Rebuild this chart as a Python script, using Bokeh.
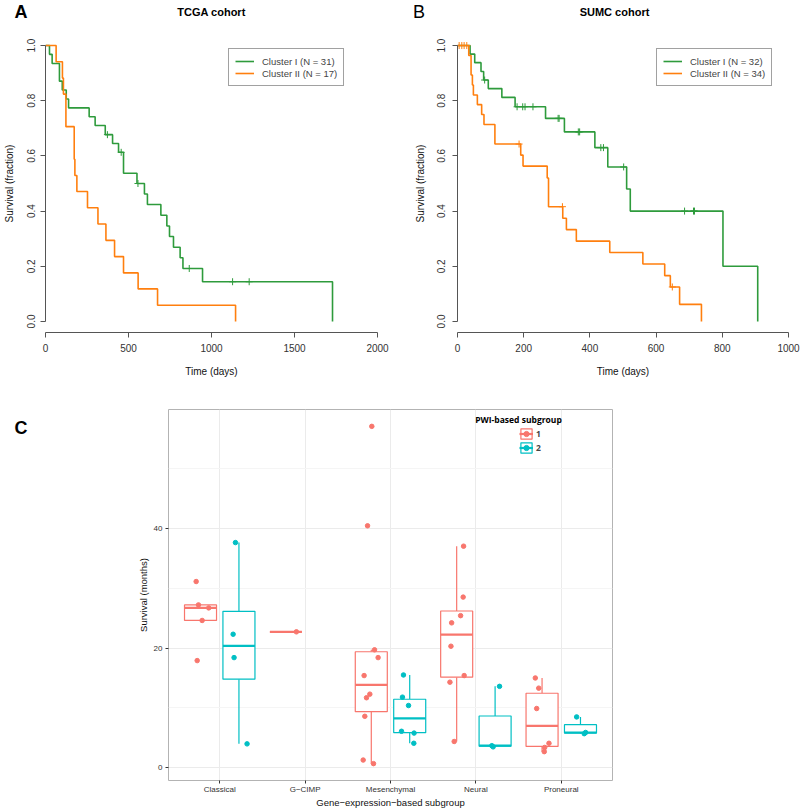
import numpy as np
from bokeh.plotting import figure
from bokeh.models import (Label, Legend, LegendItem, FixedTicker, NumeralTickFormatter,
                          CustomJSTickFormatter, ColumnDataSource, Range1d)
from bokeh.layouts import column, row
from bokeh.embed import file_html
from bokeh.resources import INLINE

# ---------------- Panel A: TCGA cohort (Kaplan-Meier steps) ----------------
tcga_c1_time = [0, 24, 40, 84, 101, 125, 139, 263, 299, 360, 404, 440, 470, 551, 596, 614,
                695, 731, 747, 771, 811, 828, 946, 1729]
tcga_c1_surv = [1.0, 0.968, 0.935, 0.871, 0.839, 0.806, 0.774, 0.742, 0.710, 0.677, 0.645, 0.613,
                0.537, 0.500, 0.462, 0.424, 0.385, 0.346, 0.308, 0.269, 0.231, 0.192, 0.144, 0.0]
tcga_c1_censor = [373, 456, 557, 866, 1127, 1227]
tcga_c2_time = [0, 64, 102, 108, 123, 173, 177, 189, 253, 316, 364, 416, 470, 558, 675, 1145]
tcga_c2_surv = [1.0, 0.941, 0.882, 0.824, 0.706, 0.588, 0.529, 0.471, 0.412, 0.353, 0.294,
                0.235, 0.176, 0.118, 0.059, 0.0]
tcga_c2_censor = []

# ---------------- Panel B: SUMC cohort ----------------
sumc_c1_time = [0, 38, 52, 71, 79, 93, 134, 174, 266, 323, 415, 454, 511, 522, 802, 907]
sumc_c1_surv = [1.0, 0.969, 0.938, 0.906, 0.875, 0.844, 0.812, 0.778, 0.736, 0.687, 0.630,
                0.560, 0.480, 0.400, 0.200, 0.0]
sumc_c1_censor = [82, 180, 197, 204, 228, 304, 307, 365, 369, 433, 441, 502, 686, 713, 716]
sumc_c2_time = [0, 34, 41, 45, 48, 60, 73, 80, 113, 191, 198, 271, 275, 318, 329, 359, 460,
                560, 626, 643, 671, 737]
sumc_c2_surv = [1.0, 0.964, 0.893, 0.857, 0.821, 0.786, 0.750, 0.714, 0.643, 0.603, 0.563,
                0.520, 0.416, 0.374, 0.333, 0.291, 0.250, 0.208, 0.166, 0.125, 0.062, 0.0]
sumc_c2_censor = [5, 13, 20, 28, 186, 317, 649]

surv_ticks = [0.0, 0.2, 0.4, 0.6, 0.8, 1.0]
tcga_xticks = [0, 500, 1000, 1500, 2000]
sumc_xticks = [0, 200, 400, 600, 800, 1000]
tcga_labels = ["Cluster I (N = 31)", "Cluster II (N = 17)"]
sumc_labels = ["Cluster I (N = 32)", "Cluster II (N = 34)"]

# ---------------- Panel C: survival (months) by subgroup ----------------
subgroups = ["Classical", "G\u2212CIMP", "Mesenchymal", "Neural", "Proneural"]
pwi_levels = ["1", "2"]
classical_1 = [31.1, 27.2, 26.7, 24.6, 17.9]
classical_2 = [37.6, 22.3, 18.4, 4.0]
gcimp_1 = [22.7]
gcimp_2 = []
mesenchymal_1 = [57.0, 40.4, 19.7, 18.4, 15.4, 12.3, 11.7, 8.6, 1.3, 0.7]
mesenchymal_2 = [15.5, 11.8, 10.4, 6.1, 5.8, 4.1]
neural_1 = [37.0, 28.5, 25.4, 24.2, 20.3, 15.4, 14.3, 4.4]
neural_2 = [13.6, 3.7, 3.5]
proneural_1 = [15.0, 13.3, 9.9, 4.1, 3.4, 2.7]
proneural_2 = [8.5, 5.9, 5.7]
# horizontal jitter of each point (category units)
classical_1_jit = [-0.276, -0.249, -0.129, -0.206, -0.264]
classical_2_jit = [0.184, 0.157, 0.168, 0.320]
gcimp_1_jit = [-0.102]
gcimp_2_jit = []
mesenchymal_1_jit = [-0.219, -0.269, -0.187, -0.145, -0.309, -0.242, -0.281, -0.301, -0.320, -0.199]
mesenchymal_2_jit = [0.152, 0.140, 0.211, 0.129, 0.276, 0.273]
neural_1_jit = [-0.144, -0.149, -0.179, -0.284, -0.292, -0.137, -0.304, -0.254]
neural_2_jit = [0.277, 0.187, 0.202]
proneural_1_jit = [-0.304, -0.264, -0.288, -0.144, -0.194, -0.199]
proneural_2_jit = [0.180, 0.285, 0.269]
c_yticks = [0, 20, 40]
c_yminor = [10, 30, 50]

# ---------------- styles ----------------
FONT = "Liberation Sans"
GREEN = "#2E9B3C"
ORANGE = "#FF7F0E"
RED = "#F8766D"
TEAL = "#00BFC4"


def text_strip(width, height):
    """Blank figure whose data units are canvas pixels (y downwards), used for free texts."""
    p = figure(width=width, height=height, x_range=Range1d(0, width), y_range=Range1d(height, 0),
               x_axis_type=None, y_axis_type=None, min_border=0, output_backend="svg",
               toolbar_location=None, title=None)
    p.outline_line_color = None
    return p


def add_text(p, x, y, text, size, bold=False, align="center", units="data", font=FONT):
    p.add_layout(Label(x=x, y=y, x_units=units, y_units=units, text=text,
                       text_font=font, text_font_size=f"{size}px",
                       text_font_style="bold" if bold else "normal",
                       text_align=align, text_baseline="middle", text_color="#000000"))


def surv_at(times, survs, t):
    idx = np.searchsorted(np.asarray(times), t, side="right") - 1
    return [survs[i] for i in np.atleast_1d(idx)]


def km_panel(width, left, right, xmax, xticks, curves, labels, legend_loc,
             ylab_standoff, ytick_standoff):
    p = figure(width=width, height=356, x_range=Range1d(0, xmax), y_range=Range1d(-0.04, 1.04),
               output_backend="svg", toolbar_location=None, title=None,
               min_border_left=left, min_border_right=right, min_border_top=8, min_border_bottom=50)
    p.grid.visible = False
    p.outline_line_color = None
    p.xaxis.ticker = FixedTicker(ticks=xticks)
    p.yaxis.ticker = FixedTicker(ticks=surv_ticks)
    p.yaxis.formatter = NumeralTickFormatter(format="0.0")
    p.xaxis.bounds = (xticks[0], xticks[-1])
    p.yaxis.bounds = (surv_ticks[0], surv_ticks[-1])
    p.yaxis.major_label_orientation = "vertical"
    p.xaxis.axis_label = "Time (days)"
    p.yaxis.axis_label = "Survival (fraction)"
    for ax in (p.xaxis, p.yaxis):
        ax.axis_line_color = "#555555"
        ax.major_tick_line_color = "#555555"
        ax.major_tick_out = 5
        ax.major_tick_in = 0
        ax.minor_tick_line_color = None
        ax.major_label_text_font = FONT
        ax.major_label_text_font_size = "10px"
        ax.major_label_text_color = "#333333"
        ax.axis_label_text_font = FONT
        ax.axis_label_text_font_size = "10px"
        ax.axis_label_text_font_style = "normal"
        ax.axis_label_text_color = "#111111"
    p.xaxis.major_label_standoff = 6
    p.xaxis.axis_label_standoff = 11
    p.yaxis.major_label_standoff = ytick_standoff
    p.yaxis.axis_label_standoff = ylab_standoff
    items = []
    for (t, s, cens, col), lab in zip(curves, labels):
        r = p.step(x=t, y=s, mode="after", line_color=col, line_width=1.6)
        if len(cens):
            p.scatter(x=cens, y=surv_at(t, s, cens), marker="cross", size=7,
                      line_color=col, line_width=1)
        items.append(LegendItem(label=lab, renderers=[r]))
    leg = Legend(items=items, location=legend_loc, padding=6, spacing=0, margin=0,
                 glyph_width=19, glyph_height=12, label_height=12, label_standoff=8,
                 label_text_font=FONT, label_text_font_size="9.5px",
                 border_line_color="#444444", border_line_width=1,
                 background_fill_color="white", background_fill_alpha=1.0)
    p.add_layout(leg)
    return p


# ---------------- header strip (panel letters and titles) ----------------
header = text_strip(800, 26)
add_text(header, 20.5, 11, "A", 18, bold=True)
add_text(header, 211, 11, "TCGA cohort", 11, bold=True)
add_text(header, 418.5, 11, "B", 18)
add_text(header, 614, 11, "SUMC cohort", 11, bold=True)

pA = km_panel(400, 45, 23, 2000, tcga_xticks,
              [(tcga_c1_time, tcga_c1_surv, tcga_c1_censor, GREEN),
               (tcga_c2_time, tcga_c2_surv, tcga_c2_censor, ORANGE)],
              tcga_labels, (183, 246), ylab_standoff=10, ytick_standoff=5)

pB = km_panel(400, 57, 12, 1000, sumc_xticks,
              [(sumc_c1_time, sumc_c1_surv, sumc_c1_censor, GREEN),
               (sumc_c2_time, sumc_c2_surv, sumc_c2_censor, ORANGE)],
              sumc_labels, (199, 246), ylab_standoff=9, ytick_standoff=7)

# ---------------- Panel C ----------------
group1 = [classical_1, gcimp_1, mesenchymal_1, neural_1, proneural_1]
group2 = [classical_2, gcimp_2, mesenchymal_2, neural_2, proneural_2]
group1_jit = [classical_1_jit, gcimp_1_jit, mesenchymal_1_jit, neural_1_jit, proneural_1_jit]
group2_jit = [classical_2_jit, gcimp_2_jit, mesenchymal_2_jit, neural_2_jit, proneural_2_jit]

all_vals = np.concatenate([np.asarray(v, float) for v in group1 + group2 if len(v)])
span = all_vals.max() - all_vals.min()
ylo, yhi = all_vals.min() - 0.05 * span, all_vals.max() + 0.05 * span

cstrip = text_strip(40, 428)
add_text(cstrip, 20.5, 21, "C", 18, bold=True)

pC = figure(width=760, height=428, x_range=Range1d(0.4, 5.6), y_range=Range1d(ylo, yhi),
            output_backend="svg", toolbar_location=None, title=None,
            min_border_left=128, min_border_right=188, min_border_top=27, min_border_bottom=25)
pC.outline_line_color = "#B3B3B3"
pC.outline_line_width = 1
pC.xaxis.ticker = FixedTicker(ticks=list(range(1, len(subgroups) + 1)))
pC.xaxis.formatter = CustomJSTickFormatter(args=dict(cats=subgroups),
                                           code="return cats[Math.round(tick) - 1] || '';")
pC.yaxis.ticker = FixedTicker(ticks=c_yticks, minor_ticks=c_yminor)
pC.xaxis.axis_label = "Gene\u2212expression\u2212based subgroup"
pC.yaxis.axis_label = "Survival (months)"
for ax in (pC.xaxis, pC.yaxis):
    ax.axis_line_color = None
    ax.major_tick_line_color = "#333333"
    ax.major_tick_out = 3
    ax.major_tick_in = 0
    ax.minor_tick_line_color = None
    ax.major_label_text_font = FONT
    ax.major_label_text_font_size = "8px"
    ax.major_label_text_color = "#333333"
    ax.major_label_standoff = 2
    ax.axis_label_text_font = FONT
    ax.axis_label_text_font_size = "9.5px"
    ax.axis_label_text_font_style = "normal"
    ax.axis_label_text_color = "#111111"
pC.xaxis.major_label_standoff = 1
pC.xaxis.axis_label_standoff = 0
pC.yaxis.axis_label_standoff = 2
pC.xgrid.grid_line_color = "#EBEBEB"
pC.ygrid.grid_line_color = "#EBEBEB"
pC.ygrid.minor_grid_line_color = "#F5F5F5"


def box_stats(v):
    v = np.asarray(v, float)
    q1, med, q3 = np.percentile(v, [25, 50, 75])
    iqr = q3 - q1
    lo = v[v >= q1 - 1.5 * iqr].min()
    hi = v[v <= q3 + 1.5 * iqr].max()
    return q1, med, q3, lo, hi


legend_items = []
for lev, groups, jits, col, dodge in ((pwi_levels[0], group1, group1_jit, RED, -0.225),
                                      (pwi_levels[1], group2, group2_jit, TEAL, 0.225)):
    box = dict(cx=[], left=[], right=[], q1=[], med=[], q3=[], lo=[], hi=[])
    px, py = [], []
    for i, (vals, jit) in enumerate(zip(groups, jits)):
        if not len(vals):
            continue
        q1, med, q3, lo, hi = box_stats(vals)
        c = i + 1 + dodge
        box["cx"].append(c)
        box["left"].append(c - 0.1875)
        box["right"].append(c + 0.1875)
        box["q1"].append(q1)
        box["med"].append(med)
        box["q3"].append(q3)
        box["lo"].append(lo)
        box["hi"].append(hi)
        px += [i + 1 + j for j in jit]
        py += list(vals)
    src = ColumnDataSource(box)
    pC.segment(x0="cx", y0="q3", x1="cx", y1="hi", source=src, line_color=col, line_width=1.2)
    pC.segment(x0="cx", y0="q1", x1="cx", y1="lo", source=src, line_color=col, line_width=1.2)
    rq = pC.quad(left="left", right="right", bottom="q1", top="q3", source=src,
                 fill_color="white", line_color=col, line_width=1.2)
    rm = pC.segment(x0="left", y0="med", x1="right", y1="med", source=src,
                    line_color=col, line_width=2.2)
    rp = pC.scatter(x=px, y=py, size=4.5, fill_color=col, line_color=col)
    legend_items.append(LegendItem(label=lev, renderers=[rq, rm, rp]))

legC = Legend(items=legend_items, location=(351, 326), padding=0, spacing=1, margin=0,
              glyph_width=14, glyph_height=13, label_height=13, label_standoff=3,
              label_text_font="Open Sans", label_text_font_size="8.5px",
              label_text_font_style="bold",
              border_line_color=None, background_fill_alpha=0.0)
pC.add_layout(legC)
add_text(pC, 350, 361, "PWI-based subgroup", 8.5, bold=True, units="screen", font="Open Sans")

layout = column(header, row(pA, pB), row(cstrip, pC))
with open("out.html", "w", encoding="utf-8") as f:
    f.write(file_html(layout, INLINE))
